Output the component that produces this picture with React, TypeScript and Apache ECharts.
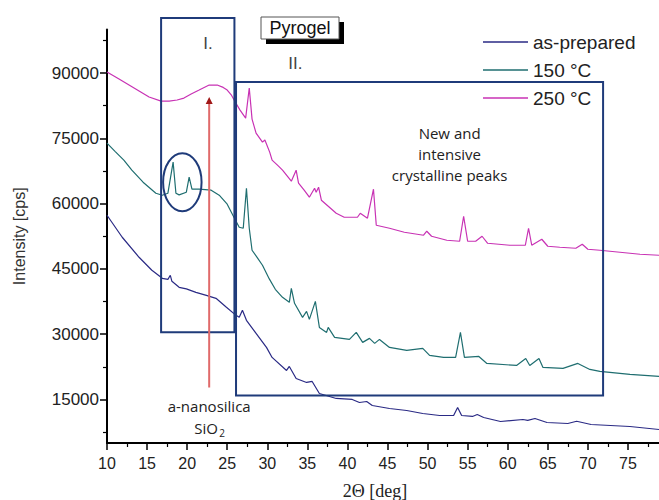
import React, { useEffect, useRef } from "react";
import * as echarts from "echarts";

// ---- data ----
const seriesNames = ["as-prepared", "150 °C", "250 °C"];

const xAsPrepared = [10, 11.9, 14, 15.6, 16.9, 17.6, 17.9, 18.1, 19, 19.9, 21.1, 22.4, 23.6, 24.9, 26.1, 26.5, 26.9, 27.4, 28.6, 29.9, 30.6, 32.4, 32.75, 33.6, 34.9, 35.6, 36.5, 38.6, 40.6, 41.5, 42.4, 43.1, 45.25, 47.4, 49.4, 51.5, 53.25, 53.75, 54.25, 55.6, 56.2, 57, 59.1, 61.9, 62.5, 63.4, 64.9, 67.5, 68.6, 70.4, 75.25, 78.9];
const yAsPrepared = [57330, 52270, 47670, 44680, 42840, 42600, 43530, 42150, 40770, 40400, 39620, 38930, 38240, 36170, 34330, 33870, 35480, 33180, 30180, 26960, 24660, 21670, 22590, 19830, 18910, 19140, 16380, 15230, 15000, 14310, 14540, 13620, 12930, 12470, 11780, 11320, 11320, 13160, 11320, 11100, 11550, 10860, 9940, 10400, 10200, 10630, 9710, 9480, 10000, 9250, 8790, 8100];

const x150 = [10, 11, 12.1, 13.1, 14.5, 16.1, 16.9, 17.6, 18.25, 18.6, 19.0, 19.9, 20.25, 20.6, 21.5, 23, 24, 25, 25.9, 26.5, 27.0, 27.4, 27.75, 28.1, 28.75, 29.4, 30.25, 31.0, 31.9, 32.75, 33.0, 33.4, 34.4, 34.9, 35.25, 36.0, 36.5, 37.4, 37.6, 38.4, 40.25, 41.1, 41.9, 42.75, 43.4, 44.0, 45.25, 47.4, 49.4, 50.25, 52.0, 53.5, 54.1, 54.6, 56.4, 57.4, 61.1, 62.25, 62.75, 63.9, 64.4, 66.9, 68.75, 70.25, 71.5, 75.25, 78.9];
const y150 = [73900, 72000, 69990, 67680, 64920, 62390, 61930, 62390, 69520, 62390, 62000, 62620, 66070, 63310, 63310, 63080, 61930, 59860, 56640, 54570, 54340, 63540, 54340, 49280, 47600, 45830, 42700, 40310, 38470, 37320, 40540, 37090, 33870, 35250, 33410, 37550, 31560, 30410, 31560, 29270, 28800, 30410, 28120, 29040, 27890, 28800, 26960, 26270, 26730, 25120, 24660, 24660, 30410, 24660, 24890, 23280, 22820, 24430, 22820, 24430, 22360, 22130, 23280, 21900, 21440, 20750, 20290];

const x250 = [10, 11.5, 12.75, 14, 15.25, 16.75, 17.75, 18.75, 19.6, 20.5, 21.5, 22.75, 23.75, 24.5, 25, 25.5, 26, 26.6, 27.3, 27.75, 28.1, 28.6, 29.4, 29.7, 30.3, 30.6, 31.4, 31.9, 33.0, 33.6, 33.9, 34.6, 35.25, 35.9, 36.1, 36.4, 36.75, 37.75, 38.6, 39.6, 41.25, 41.6, 42.5, 43.25, 43.6, 45.25, 47.1, 49.5, 49.9, 50.5, 52.4, 54.0, 54.5, 55.0, 56.0, 56.8, 57.5, 60.25, 62.2, 62.6, 63.0, 64.25, 65, 66.5, 68.5, 69.3, 70, 71.5, 74, 76.5, 78.9];
const y250 = [90230, 88620, 87240, 85860, 84480, 83560, 83560, 83800, 84250, 85200, 86090, 87240, 87240, 86700, 86090, 85000, 83330, 81490, 79650, 86550, 79420, 76200, 74130, 74600, 71830, 69990, 68600, 67680, 65150, 67680, 64690, 63080, 61470, 63540, 62620, 63770, 60780, 59170, 57790, 56870, 56870, 57790, 56640, 63310, 55030, 54340, 53420, 52730, 53650, 52500, 51580, 51350, 57100, 51350, 51350, 52500, 50890, 50430, 50430, 54340, 50430, 51810, 50200, 49970, 49740, 50660, 49510, 49280, 48820, 48360, 48130];

const yLabelValues = [15000, 30000, 45000, 60000, 75000, 90000];
const yMinorTickValues = [7500, 22500, 37500, 52500, 67500, 82500, 97500];

// annotation anchors in data coordinates
const regionI = [16.75, 102650, 25.9, 30420];
const regionII = [26.1, 87930, 71.9, 15920];
const circleCenter = [19.4, 64920];
const circleEdge = [21.8, 58250];
const arrowTop = [22.75, 84480];
const arrowBottom = [22.75, 17760];

const colors = ["#2a2a85", "#1f6e70", "#c832b4"];
const boxColor = "#1f3b7a";

const pairs = (xs: number[], ys: number[]) => xs.map((x, i) => [x, ys[i]]);

export default function App() {
  const ref = useRef<HTMLDivElement>(null);
  useEffect(() => {
    document.body.style.margin = "0";
    if (!ref.current) return;
    const chart = echarts.init(ref.current, null, { renderer: "svg" });
    const tickFont = { fontFamily: "Liberation Sans", color: "#222" };
    chart.setOption({
      animation: false,
      backgroundColor: "#fff",
      grid: { left: 107, right: -9, top: 29.5, bottom: 57, outerBoundsMode: "none", containLabel: false },
      legend: {
        left: 478,
        top: 27,
        orient: "vertical",
        icon: "rect",
        itemWidth: 45,
        itemHeight: 1.6,
        itemGap: 8,
        textStyle: { fontSize: 19, lineHeight: 20, fontFamily: "Liberation Sans", color: "#222" },
        data: seriesNames,
      },
      xAxis: {
        type: "value",
        min: 10,
        max: 80,
        interval: 5,
        axisLine: { lineStyle: { color: "#000", width: 2 } },
        axisTick: { length: 7, lineStyle: { color: "#000", width: 1.5 } },
        minorTick: { show: true, splitNumber: 2, length: 4, lineStyle: { color: "#000", width: 1.2 } },
        axisLabel: { ...tickFont, fontSize: 16, margin: 12 },
        splitLine: { show: false },
      },
      yAxis: [
        {
          type: "value",
          min: 5000,
          max: 100000,
          position: "left",
          name: "Intensity [cps]",
          nameLocation: "middle",
          nameGap: 80,
          nameTextStyle: { fontSize: 16, fontFamily: "Liberation Sans", color: "#333" },
          axisLine: { show: true, lineStyle: { color: "#000", width: 2 } },
          axisTick: { show: true, length: 7, customValues: yLabelValues, lineStyle: { color: "#000", width: 1.5 } },
          axisLabel: { ...tickFont, fontSize: 17, margin: 8, customValues: yLabelValues, formatter: (v: number) => String(v) },
          splitLine: { show: false },
        },
        {
          type: "value",
          min: 5000,
          max: 100000,
          position: "left",
          axisLine: { show: false },
          axisTick: { show: true, length: 4, customValues: yMinorTickValues, lineStyle: { color: "#000", width: 1.2 } },
          axisLabel: { show: false },
          splitLine: { show: false },
        },
      ],
      series: [
        { name: seriesNames[0], type: "line", data: pairs(xAsPrepared, yAsPrepared), showSymbol: false, symbol: "none", color: colors[0], lineStyle: { width: 1.2 } },
        { name: seriesNames[1], type: "line", data: pairs(x150, y150), showSymbol: false, symbol: "none", color: colors[1], lineStyle: { width: 1.2 } },
        { name: seriesNames[2], type: "line", data: pairs(x250, y250), showSymbol: false, symbol: "none", color: colors[2], lineStyle: { width: 1.2 } },
      ],
    });

    const p = (x: number, y: number) => chart.convertToPixel({ gridIndex: 0 }, [x, y]) as number[];
    const r1a = p(regionI[0], regionI[1]);
    const r1b = p(regionI[2], regionI[3]);
    const r2a = p(regionII[0], regionII[1]);
    const r2b = p(regionII[2], regionII[3]);
    const cc = p(circleCenter[0], circleCenter[1]);
    const ce = p(circleEdge[0], circleEdge[1]);
    const at = p(arrowTop[0], arrowTop[1]);
    const ab = p(arrowBottom[0], arrowBottom[1]);
    const tI = p(22.6, 96670);
    const tII = p(33.5, 92300);
    const tNew = p(52.75, 71360);
    const tNano = p(22.75, 13390);
    const tSi = p(22.75, 8560);

    const txt = (x: number, y: number, text: string, font: string, fill = "#222") => ({
      type: "text",
      x,
      y,
      z: 100,
      style: { text, font, fill, textAlign: "center", textVerticalAlign: "middle", lineHeight: 21 },
    });

    chart.setOption({
      graphic: [
        { type: "rect", z: 100, shape: { x: r1a[0], y: r1a[1], width: r1b[0] - r1a[0], height: r1b[1] - r1a[1] }, style: { fill: "none", stroke: boxColor, lineWidth: 2 } },
        { type: "rect", z: 100, shape: { x: r2a[0], y: r2a[1], width: r2b[0] - r2a[0], height: r2b[1] - r2a[1] }, style: { fill: "none", stroke: boxColor, lineWidth: 2 } },
        { type: "ellipse", z: 100, shape: { cx: cc[0], cy: cc[1], rx: ce[0] - cc[0], ry: ce[1] - cc[1] }, style: { fill: "none", stroke: boxColor, lineWidth: 2 } },
        { type: "line", z: 100, shape: { x1: ab[0], y1: ab[1], x2: at[0], y2: at[1] + 4 }, style: { stroke: "#e06a6a", lineWidth: 2 } },
        { type: "polygon", z: 101, shape: { points: [[at[0], at[1]], [at[0] - 3.5, at[1] + 7], [at[0] + 3.5, at[1] + 7]] }, style: { fill: "#a01818" } },
        // Pyrogel tag
        { type: "rect", z: 100, shape: { x: 266, y: 22, width: 78, height: 22 }, style: { fill: "#000" } },
        { type: "rect", z: 101, shape: { x: 261, y: 17, width: 78, height: 22 }, style: { fill: "#fff", stroke: "#555", lineWidth: 1 } },
        { ...txt(300, 28, "Pyrogel", '18px "Liberation Sans"', "#111"), z: 102 },
        txt(tI[0], tI[1], "I.", '17px "Liberation Sans"', "#444"),
        txt(tII[0], tII[1], "II.", '17px "Liberation Sans"', "#444"),
        txt(tNew[0], tNew[1], "New and\nintensive\ncrystalline peaks", '15px "Open Sans"', "#222"),
        txt(tNano[0], tNano[1], "a-nanosilica", '15px "Open Sans"', "#222"),
        txt(tSi[0] - 3, tSi[1], "SiO", '15px "Open Sans"', "#222"),
        txt(tSi[0] + 13, tSi[1] + 5, "2", '10px "Open Sans"', "#222"),
        txt(375, 491, "2Θ [deg]", '18px "Liberation Serif"', "#222"),
      ],
    });

    return () => chart.dispose();
  }, []);
  return <div ref={ref} style={{ width: 659, height: 500 }} />;
}
